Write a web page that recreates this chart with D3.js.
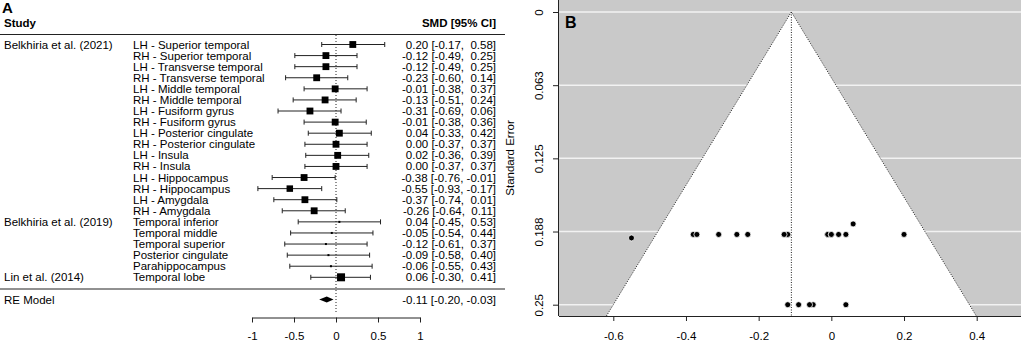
<!DOCTYPE html>
<html lang="en">
  <head>
    <meta charset="utf-8">
    <title>Forest and funnel plot</title>
    <style>
      body { margin: 0; background: #fff; }
      svg { display: block; font-family: "Liberation Sans", Arial, sans-serif; }
      .pre { white-space: pre; }
    </style>
    <script src="https://d3js.org/d3.v7.min.js"></script>
  </head>
  <body>
    <div class="chart"></div>
    <script>

    const studies = ["Belkhiria et al. (2021)", "Belkhiria et al. (2019)", "Lin et al. (2014)"]
    const studyRows = [0, 16, 21]

    const regions = [
      "LH - Superior temporal", "RH - Superior temporal", "LH - Transverse temporal", "RH - Transverse temporal",
      "LH - Middle temporal", "RH - Middle temporal", "LH - Fusiform gyrus", "RH - Fusiform gyrus",
      "LH - Posterior cingulate", "RH - Posterior cingulate", "LH - Insula", "RH - Insula",
      "LH - Hippocampus", "RH - Hippocampus", "LH - Amygdala", "RH - Amygdala",
      "Temporal inferior", "Temporal middle", "Temporal superior", "Posterior cingulate", "Parahippocampus",
      "Temporal lobe"]
    const smd = [0.20, -0.12, -0.12, -0.23, -0.01, -0.13, -0.31, -0.01, 0.04, 0.00, 0.02, 0.00,
      -0.38, -0.55, -0.37, -0.26, 0.04, -0.05, -0.12, -0.09, -0.06, 0.06]
    const lower = [-0.17, -0.49, -0.49, -0.60, -0.38, -0.51, -0.69, -0.38, -0.33, -0.37, -0.36, -0.37,
      -0.76, -0.93, -0.74, -0.64, -0.45, -0.54, -0.61, -0.58, -0.55, -0.30]
    const upper = [0.58, 0.25, 0.25, 0.14, 0.37, 0.24, 0.06, 0.36, 0.42, 0.37, 0.39, 0.37,
      -0.01, -0.17, 0.01, 0.11, 0.53, 0.44, 0.37, 0.40, 0.43, 0.41]
    const se = [0.19, 0.19, 0.19, 0.19, 0.19, 0.19, 0.19, 0.19, 0.19, 0.19, 0.19, 0.19,
      0.19, 0.193, 0.19, 0.19, 0.25, 0.25, 0.25, 0.25, 0.25, 0.181]
    const reModel = { est: -0.11, lower: -0.20, upper: -0.03 }

    const forestTicks = [-1, -0.5, 0, 0.5, 1]
    const funnelXTicks = [-0.6, -0.4, -0.2, 0, 0.2, 0.4]
    const funnelYTicks = [0, 0.0625, 0.125, 0.1875, 0.25]
    const funnelYLabels = ["0", "0.063", "0.125", "0.188", "0.25"]

    const W = 1021, H = 342, fs = "11.5px"
    const data = regions.map((r, i) => ({ region: r, est: smd[i], lo: lower[i], hi: upper[i], se: se[i], row: i }))

    const svg = d3.select(".chart").append("svg")
      .attr("width", W)
      .attr("height", H)

    svg.append("rect").attr("width", W).attr("height", H).attr("fill", "#fff")

    // ---- panel A: forest plot
    const x = d3.scaleLinear().domain([-1, 1]).range([252, 420])
    const y = d3.scaleLinear().domain([0, regions.length - 1]).range([44.5, 277.3])
    const yRE = 299.5
    const w = data.map(d => 1 / (d.se * d.se))
    const size = d3.scaleLinear().domain(d3.extent(w)).range([2, 8])
    const fmt = v => d3.format(".2f")(v).replace("−", "-").padStart(5, " ")
    const ciText = (e, l, h) => `${fmt(e)} [${fmt(l)}, ${fmt(h)}]`

    const A = svg.append("g").style("font-size", fs).attr("fill", "#000")

    A.append("text").attr("x", 2).attr("y", 13).style("font-size", "15px").style("font-weight", "bold").text("A")
    A.append("text").attr("x", 4).attr("y", 27).style("font-weight", "bold").text("Study")
    A.append("text").attr("x", 496).attr("y", 27).attr("text-anchor", "end").style("font-weight", "bold").text("SMD [95% CI]")

    A.append("line").attr("x1", 0).attr("x2", 505).attr("y1", 34.5).attr("y2", 34.5).attr("stroke", "#222")
    A.append("line").attr("x1", 0).attr("x2", 505).attr("y1", 289).attr("y2", 289).attr("stroke", "#222")

    A.append("line")
      .attr("x1", x(0)).attr("x2", x(0))
      .attr("y1", 35).attr("y2", 312)
      .attr("stroke", "#222")
      .attr("stroke-dasharray", "1,2")

    A.selectAll(".study")
      .data(studies)
      .join("text")
      .attr("x", 4)
      .attr("y", (d, i) => y(studyRows[i]))
      .attr("dy", "0.35em")
      .text(d => d)

    A.selectAll(".region")
      .data(data)
      .join("text")
      .attr("x", 133)
      .attr("y", d => y(d.row))
      .attr("dy", "0.35em")
      .text(d => d.region)

    A.selectAll(".ci")
      .data(data)
      .join("text")
      .attr("class", "pre")
      .attr("x", 496)
      .attr("y", d => y(d.row))
      .attr("dy", "0.35em")
      .attr("text-anchor", "end")
      .text(d => ciText(d.est, d.lo, d.hi))

    const rows = A.append("g").selectAll("g")
      .data(data)
      .join("g")
      .attr("transform", d => `translate(0,${y(d.row)})`)

    rows.append("line")
      .attr("x1", d => x(d.lo)).attr("x2", d => x(d.hi))
      .attr("stroke", "#222")
    rows.append("line")
      .attr("x1", d => x(d.lo)).attr("x2", d => x(d.lo))
      .attr("y1", -2.5).attr("y2", 2.5)
      .attr("stroke", "#222")
    rows.append("line")
      .attr("x1", d => x(d.hi)).attr("x2", d => x(d.hi))
      .attr("y1", -2.5).attr("y2", 2.5)
      .attr("stroke", "#222")
    rows.append("rect")
      .attr("x", d => x(d.est) - size(1 / (d.se * d.se)) / 2)
      .attr("y", d => -size(1 / (d.se * d.se)) / 2)
      .attr("width", d => size(1 / (d.se * d.se)))
      .attr("height", d => size(1 / (d.se * d.se)))
      .attr("fill", "#000")

    A.append("text").attr("x", 4).attr("y", yRE).attr("dy", "0.35em").text("RE Model")
    A.append("polygon")
      .attr("points", [[x(reModel.lower), yRE], [x(reModel.est), yRE - 3], [x(reModel.upper), yRE], [x(reModel.est), yRE + 3]].join(" "))
      .attr("fill", "#000")
    A.append("text")
      .attr("class", "pre")
      .attr("x", 496).attr("y", yRE).attr("dy", "0.35em")
      .attr("text-anchor", "end")
      .text(ciText(reModel.est, reModel.lower, reModel.upper))

    A.append("g")
      .attr("transform", "translate(0,317.5)")
      .call(d3.axisBottom(x).tickValues(forestTicks).tickFormat(d => String(d)).tickSize(5).tickSizeOuter(0).tickPadding(9))
      .call(g => g.selectAll("text").style("font-size", fs).attr("fill", "#000").style("font-family", "Liberation Sans, Arial, sans-serif"))
      .call(g => g.selectAll("path,line").attr("stroke", "#222"))

    // ---- panel B: funnel plot
    const fx = d3.scaleLinear().domain([-0.6, 0.4]).range([613.3, 976.7])
    const fy = d3.scaleLinear().domain([0, 0.25]).range([12, 304.7])
    const pLeft = 559, pRight = 1021, pTop = 0, pBottom = 316
    const seBottom = fy.invert(pBottom)
    const center = reModel.est

    const B = svg.append("g").style("font-size", fs)

    B.append("rect")
      .attr("x", pLeft).attr("y", pTop)
      .attr("width", pRight - pLeft).attr("height", pBottom - pTop)
      .attr("fill", "#c9c9c9")

    B.selectAll(".grid")
      .data(funnelYTicks)
      .join("line")
      .attr("x1", pLeft).attr("x2", pRight)
      .attr("y1", d => fy(d)).attr("y2", d => fy(d))
      .attr("stroke", "#f2f2f2")
      .attr("stroke-width", 1.5)

    const tri = [[center, 0], [center - 1.96 * seBottom, seBottom], [center + 1.96 * seBottom, seBottom]]
    B.append("polygon")
      .attr("points", tri.map(p => [fx(p[0]), fy(p[1])]).join(" "))
      .attr("fill", "#fff")

    B.append("polyline")
      .attr("points", [tri[1], tri[0], tri[2]].map(p => [fx(p[0]), fy(p[1])]).join(" "))
      .attr("fill", "none")
      .attr("stroke", "#222")
      .attr("stroke-dasharray", "1,1.5")
    B.append("line")
      .attr("x1", fx(center)).attr("x2", fx(center))
      .attr("y1", fy(0)).attr("y2", pBottom)
      .attr("stroke", "#222")
      .attr("stroke-dasharray", "1,1.5")

    B.selectAll("circle")
      .data(data)
      .join("circle")
      .attr("cx", d => fx(d.est))
      .attr("cy", d => fy(d.se))
      .attr("r", 3)
      .attr("fill", "#000")
      .attr("stroke", "#fff")
      .attr("stroke-width", 0.8)

    B.append("g")
      .attr("transform", `translate(0,${pBottom})`)
      .call(d3.axisBottom(fx).tickValues(funnelXTicks).tickFormat(d => String(d)).tickSize(5).tickSizeOuter(0).tickPadding(11))
      .call(g => g.select(".domain").attr("d", `M${pLeft},0.5H${pRight}`))
      .call(g => g.selectAll("text").style("font-size", fs).attr("fill", "#000").style("font-family", "Liberation Sans, Arial, sans-serif"))
      .call(g => g.selectAll("path,line").attr("stroke", "#222"))

    B.append("g")
      .attr("transform", `translate(${pLeft},0)`)
      .call(d3.axisLeft(fy).tickValues(funnelYTicks).tickFormat((d, i) => funnelYLabels[i]).tickSize(6).tickSizeOuter(0))
      .call(g => g.select(".domain").attr("d", `M-0.5,${pTop}V${pBottom}`))
      .call(g => g.selectAll("text")
        .attr("x", 0).attr("dy", 0)
        .attr("text-anchor", "middle")
        .attr("transform", "translate(-16,0) rotate(-90)")
        .style("font-size", fs).attr("fill", "#000")
        .style("font-family", "Liberation Sans, Arial, sans-serif"))
      .call(g => g.selectAll("path,line").attr("stroke", "#222"))

    B.append("text")
      .attr("transform", "translate(514,158) rotate(-90)")
      .attr("text-anchor", "middle")
      .text("Standard Error")

    B.append("text").attr("x", 565).attr("y", 28).style("font-size", "16px").style("font-weight", "bold").text("B")

    </script>
  </body>
</html>
